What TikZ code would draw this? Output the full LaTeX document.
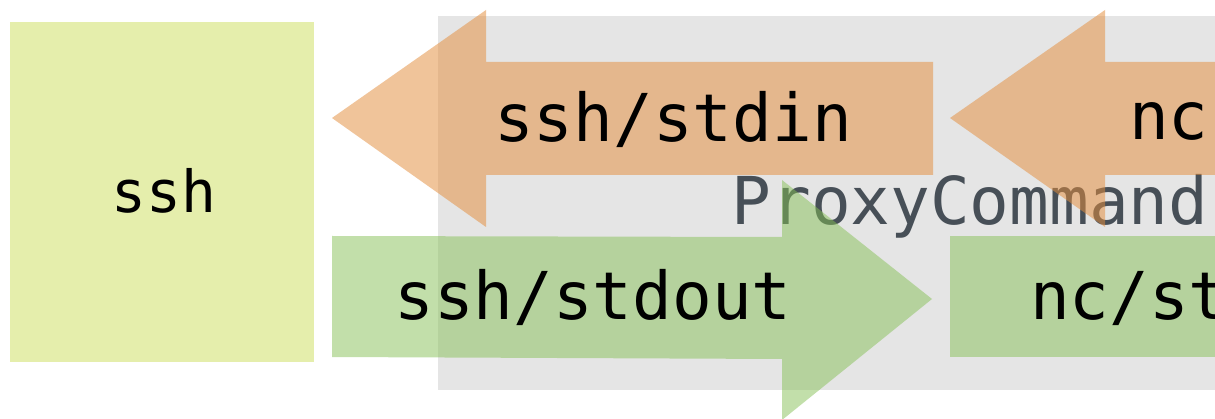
\documentclass[tikz,border=0pt]{standalone}
\usepackage{fontspec}
\setmonofont{DejaVu Sans Mono}
\usepackage{tikz}
\usepackage{xcolor}
\definecolor{sshvert}{RGB}{229,238,172}
\definecolor{fondgris}{RGB}{229,229,229}
\definecolor{orangeflux}{RGB}{228,142,62}
\definecolor{vertflux}{RGB}{134,193,86}
\definecolor{grisproxy}{RGB}{71,79,87}
\tikzset{
Boite/.style={
 fill=sshvert, 
 draw=none
 },
Fond/.style={
 fill=fondgris, 
 draw=none
 },
GFlux/.style={
 fill=orangeflux, 
 fill opacity=0.52, 
 draw=none
 },
DFlux/.style={
 fill=vertflux, 
 fill opacity=0.5, 
 draw=none
 },
Etiquette/.style={
 font=\ttfamily\fontsize{66}{70}\selectfont, 
 text=black, 
 inner sep=0pt, 
 outer sep=0pt
 },
Proxy/.style={
 font=\ttfamily\fontsize{66}{70}\selectfont, 
 text=grisproxy, 
 inner sep=0pt
 }
}
\begin{document}
\begin{tikzpicture}[x=1pt,y=-1pt]
\clip (0,0) rectangle (1215,419);
\fill[white] (0,0) rectangle (1215,419);
\fill[Boite] (10,22) rectangle (314,362);
\fill[Fond] (438,16) rectangle (1230,390);
\node[Proxy,anchor=base] (proxy) at (970,225) {ProxyCommand};
\fill[GFlux] (332,118) -- (486,10) -- (486,62) -- (933,62) -- (933,175) -- (486,175) -- (486,227) -- cycle;
\fill[GFlux] (950,118) -- (1105,10) -- (1105,62) -- (1230,62) -- (1230,175) -- (1105,175) -- (1105,227) -- cycle;
\fill[DFlux] (332,236) -- (782,237) -- (782,180) -- (932,299) -- (782,420) -- (782,359) -- (332,357) -- cycle;
\fill[DFlux] (950,236) -- (1230,236) -- (1230,357) -- (950,357) -- cycle;
\node[Etiquette,anchor=base,font=\ttfamily\fontsize{58}{62}\selectfont] (ssh) at (164,213) {ssh};
\node[Etiquette,anchor=base] (sshin) at (673,142) {ssh/stdin};
\node[Etiquette,anchor=base] (sshout) at (593,320) {ssh/stdout};
\node[Etiquette,anchor=base west] (ncout) at (1129,140) {nc};
\node[Etiquette,anchor=base west] (ncin) at (1030,320) {nc/st};
\end{tikzpicture}
\end{document}
